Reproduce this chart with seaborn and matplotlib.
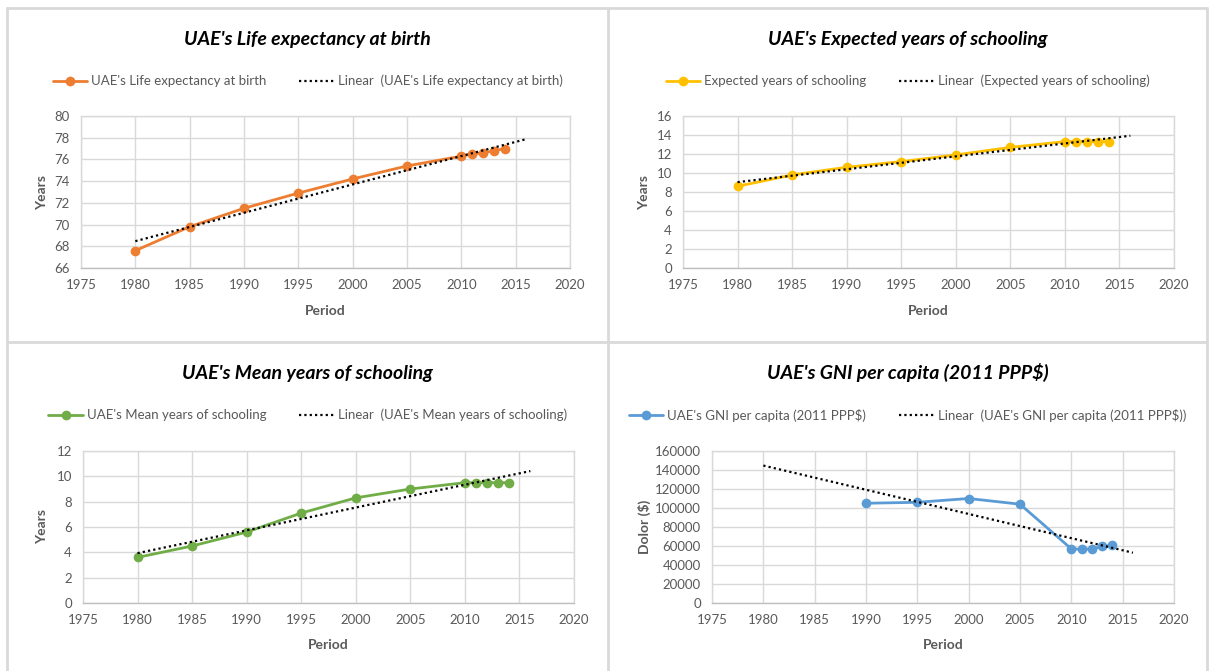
import numpy as np
import pandas as pd
import matplotlib
matplotlib.use("Agg")
import matplotlib.pyplot as plt
from matplotlib.lines import Line2D
import seaborn as sns

# ---- data ----
years_all = [1980, 1985, 1990, 1995, 2000, 2005, 2010, 2011, 2012, 2013, 2014]
life_expectancy = [67.6, 69.8, 71.5, 72.9, 74.2, 75.4, 76.3, 76.5, 76.6, 76.8, 77.0]
expected_schooling = [8.6, 9.8, 10.6, 11.2, 11.9, 12.7, 13.3, 13.3, 13.3, 13.3, 13.3]
mean_schooling = [3.6, 4.5, 5.6, 7.1, 8.3, 9.0, 9.5, 9.5, 9.5, 9.5, 9.5]
years_gni = [1990, 1995, 2000, 2005, 2010, 2011, 2012, 2013, 2014]
gni_per_capita = [105000, 106000, 110000, 104000, 57000, 56500, 57000, 59500, 61000]

titles = ["UAE's Life expectancy at birth", "UAE's Expected years of schooling",
          "UAE's Mean years of schooling", "UAE's GNI per capita (2011 PPP$)"]
series_names = ["UAE's Life expectancy at birth", "Expected years of schooling",
                "UAE's Mean years of schooling", "UAE's GNI per capita (2011 PPP$)"]
ylabels = ["Years", "Years", "Years", "Dolor ($)"]
x_ticks = [1975, 1980, 1985, 1990, 1995, 2000, 2005, 2010, 2015, 2020]
y_ticks = [list(range(66, 81, 2)), list(range(0, 17, 2)), list(range(0, 13, 2)),
           list(range(0, 160001, 20000))]
trend_x = [1980, 2016]

sns.set_theme(style="white")
plt.rcParams['font.family'] = ['Lato', 'DejaVu Sans']

W, H = 1209, 671
fig = plt.figure(figsize=(W / 100, H / 100), dpi=100)

colors = ["#ED7D31", "#FFC000", "#70AD47", "#5B9BD5"]
# axes boxes in pixels: left, right, top, bottom
boxes = [(81, 570, 116, 268), (683, 1174, 116, 268),
         (83, 574, 451, 603), (712, 1174, 451, 603)]
panels = [(7, 608, 8, 342), (608, 1207, 8, 342), (7, 608, 342, 671), (608, 1207, 342, 671)]
xs = [years_all, years_all, years_all, years_gni]
ys = [life_expectancy, expected_schooling, mean_schooling, gni_per_capita]

grid_c = "#D9D9D9"
text_c = "#595959"

for i in range(4):
    l, r, t, b = boxes[i]
    ax = fig.add_axes([l / W, 1 - b / H, (r - l) / W, (b - t) / H])
    x = np.array(xs[i], dtype=float)
    y = np.array(ys[i], dtype=float)
    sns.lineplot(x=x, y=y, ax=ax, color=colors[i], marker='o', markersize=7,
                 markeredgewidth=0, linewidth=2, label=series_names[i], zorder=3)
    coef = np.polyfit(x, y, 1)
    tx = np.array(trend_x, dtype=float)
    sns.lineplot(x=tx, y=np.polyval(coef, tx), ax=ax, color='black',
                 linestyle=(0, (1, 1.4)), linewidth=1.6,
                 label="Linear  (" + series_names[i] + ")", zorder=4)
    ax.set_xlim(1975, 2020)
    ax.set_xticks(x_ticks)
    ax.set_ylim(y_ticks[i][0], y_ticks[i][-1])
    ax.set_yticks(y_ticks[i])
    ax.grid(True, color=grid_c, linewidth=1)
    ax.set_axisbelow(True)
    for s in ax.spines.values():
        s.set_color(grid_c)
        s.set_linewidth(1)
    ax.spines['bottom'].set_color("#BFBFBF")
    ax.tick_params(length=0, labelsize=9.5, labelcolor=text_c, pad=8)
    ax.set_xlabel("Period", fontsize=10, fontweight='bold', color=text_c)
    ax.set_ylabel(ylabels[i], fontsize=10, fontweight='bold', color=text_c)
    ax.xaxis.set_label_coords(0.5, (b - 311 - (0 if i < 2 else 334)) / (b - t))
    ax.xaxis.label.set_va('center')
    pl, pr, pt, pb = panels[i]
    ylab_x = [42, 644, 42, 644][i]
    ax.yaxis.set_label_coords((ylab_x - l) / (r - l), 0.5)
    ax.yaxis.label.set_va('center')
    cx = ((pl + pr) / 2) / W
    title_y = [40, 40, 373, 373][i]
    leg_y = [81, 81, 415, 415][i]
    fig.text(cx, 1 - title_y / H, titles[i], ha='center', va='center',
             fontsize=14, fontweight='bold', style='italic', color='black')
    ax.legend(loc='center', bbox_to_anchor=(cx, 1 - leg_y / H),
              bbox_transform=fig.transFigure, ncol=2, frameon=False,
              fontsize=9.5, handlelength=2.6, columnspacing=2.5,
              handletextpad=0.3, labelcolor=text_c)

# table-like borders
bc = "#D9D9D9"
for (x0, y0, x1, y1) in [(7, 8, 1207, 8), (7, 342, 1207, 342), (7, 8, 7, 671),
                         (608, 8, 608, 671), (1207, 8, 1207, 671)]:
    fig.add_artist(Line2D([x0 / W, x1 / W], [1 - y0 / H, 1 - y1 / H],
                          color=bc, linewidth=2, transform=fig.transFigure))

fig.savefig("out.png", dpi=100, facecolor='white')
